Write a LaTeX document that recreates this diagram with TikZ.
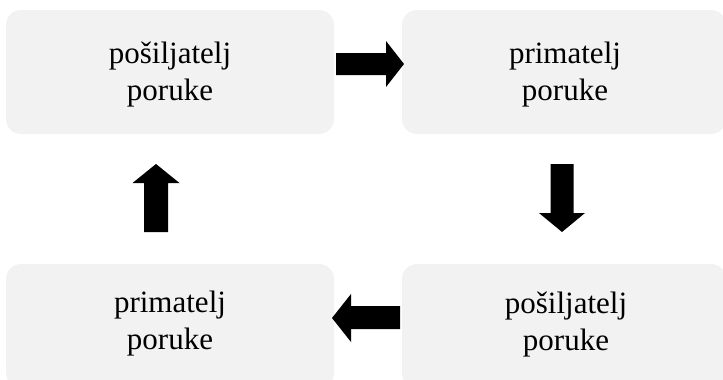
\documentclass[tikz,border=0pt]{standalone}
\usepackage{fontspec}
\setmainfont{Liberation Serif}
\definecolor{boxgray}{HTML}{F2F2F2}
\begin{document}
\begin{tikzpicture}[x=1pt,y=-1pt,
  box/.style={fill=boxgray, rounded corners=15pt, inner sep=0pt, minimum height=124pt},
  lbl/.style={align=center, inner sep=0pt, font=\fontsize{31pt}{37pt}\selectfont},
  blockarrow/.style={fill=black}]
\useasboundingbox (0,0) rectangle (723,380);
\clip (0,0) rectangle (723,380);
% boxes
\node[box, minimum width=328pt] (b1) at (170,72) {};
\node[box, minimum width=324pt] (b2) at (564,72) {};
\node[box, minimum width=328pt] (b3) at (170,326) {};
\node[box, minimum width=324pt] (b4) at (564,326) {};
% labels
\node[lbl] (t1) at (170,74.5) {pošiljatelj\\poruke};
\node[lbl] (t2) at (565,74.5) {primatelj\\poruke};
\node[lbl] (t3) at (170,324) {primatelj\\poruke};
\node[lbl] (t4) at (566,325) {pošiljatelj\\poruke};
% block arrows
\fill[blockarrow] (336,53) -- (386,53) -- (386,41) -- (404,64) -- (386,87) -- (386,75) -- (336,75) -- cycle;
\fill[blockarrow] (550.5,164) -- (573.5,164) -- (573.5,213) -- (585,213) -- (562,232) -- (539,213) -- (550.5,213) -- cycle;
\fill[blockarrow] (400,306) -- (400,329) -- (351,329) -- (351,342) -- (332,318) -- (351,294) -- (351,306) -- cycle;
\fill[blockarrow] (144,232) -- (168,232) -- (168,183) -- (179.5,183) -- (156,164) -- (132.5,183) -- (144,183) -- cycle;
\end{tikzpicture}
\end{document}
